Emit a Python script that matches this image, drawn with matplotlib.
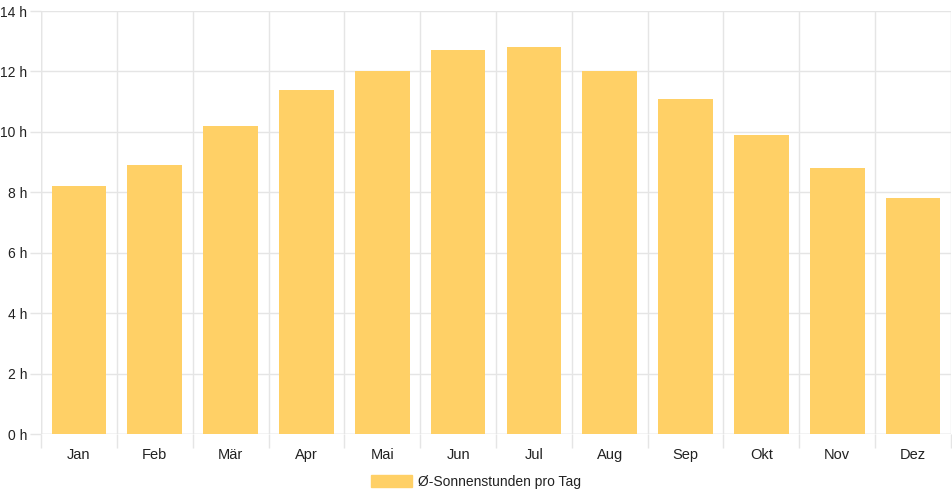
import matplotlib.pyplot as plt
import matplotlib.patches as mpatches

plt.rcParams['font.family'] = ['Liberation Sans', 'DejaVu Sans']

# Durchschnittliche Sonnenstunden pro Tag
monate = ['Jan', 'Feb', 'Mär', 'Apr', 'Mai', 'Jun', 'Jul', 'Aug', 'Sep', 'Okt', 'Nov', 'Dez']
sonnenstunden = [8.2, 8.9, 10.2, 11.4, 12.0, 12.7, 12.8, 12.0, 11.1, 9.9, 8.8, 7.8]
y_ticks = [0, 2, 4, 6, 8, 10, 12, 14]

bar_color = '#FFD066'
grid_color = '#e5e5e5'
text_color = '#222222'

fig = plt.figure(figsize=(9.52, 5.0), dpi=100)
ax = fig.add_axes([41 / 952, 66 / 500, 910 / 952, 423 / 500])

x = range(len(monate))
ax.bar(x, sonnenstunden, width=0.72, color=bar_color, zorder=2)

ax.set_xlim(-0.5, len(monate) - 0.5)
ax.set_ylim(0, 14)

# y axis
ax.set_yticks(y_ticks)
ax.set_yticklabels([f'{v} h' for v in y_ticks])
ax.yaxis.grid(True, color=grid_color, linewidth=1, zorder=0)

# x axis: labels centred, grid on category boundaries
ax.set_xticks(list(x))
ax.set_xticklabels(monate)
ax.set_xticks([i - 0.5 for i in range(len(monate) + 1)], minor=True)
ax.xaxis.grid(True, which='minor', color=grid_color, linewidth=1, zorder=0)
ax.tick_params(axis='x', which='major', length=0, pad=10, labelsize=10.5, labelcolor=text_color)
ax.tick_params(axis='x', which='minor', length=10, color=grid_color, width=1)
ax.tick_params(axis='y', length=8, color=grid_color, width=1, pad=2, labelsize=10, labelcolor=text_color)

for side in ['top', 'right', 'bottom', 'left']:
    ax.spines[side].set_visible(False)
ax.axhline(0, color='#d9d9d9', linewidth=1, zorder=1)
ax.axvline(-0.5, color='#d9d9d9', linewidth=1, zorder=1)

# Legende
handle = mpatches.Patch(color=bar_color, label='Ø-Sonnenstunden pro Tag')
fig.legend(handles=[handle], loc='center', bbox_to_anchor=(0.5, 1 - 482 / 500),
           frameon=False, handlelength=2.9, handleheight=0.95, handletextpad=0.45,
           fontsize=10, labelcolor=text_color)

fig.savefig('out.png', dpi=100)
